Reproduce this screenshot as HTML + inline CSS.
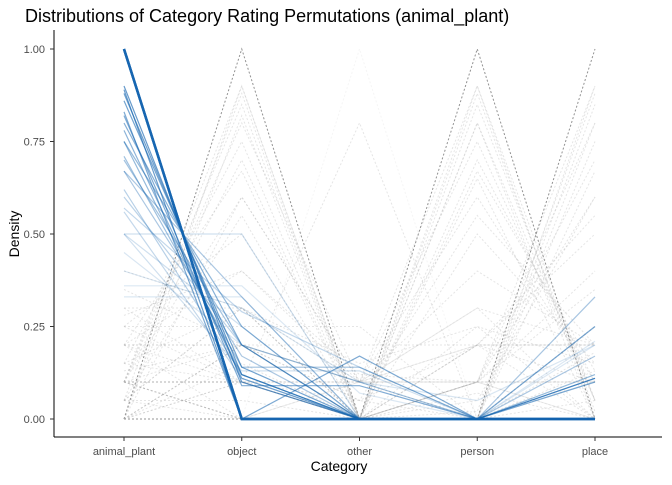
<!DOCTYPE html>
<html><head><meta charset="utf-8">
<style>
body{margin:0;background:#fff;font-family:"Liberation Sans",sans-serif}
svg text{font-family:"Liberation Sans",sans-serif}
</style></head>
<body>
<svg id="c" width="672" height="480">
<text x="25" y="22" font-size="18" fill="#000">Distributions of Category Rating Permutations (animal_plant)</text>
<g id="gray"></g>
<g id="blue"></g>
<line x1="54" y1="30" x2="54" y2="437" stroke="#000" stroke-width="1"/>
<line x1="54" y1="437" x2="662" y2="437" stroke="#000" stroke-width="1"/>
<g id="axes"></g>
<text x="339" y="471" font-size="14" text-anchor="middle">Category</text>
<text transform="translate(19,234) rotate(-90)" font-size="14" text-anchor="middle">Density</text>
</svg>
<script>
const categories=["animal_plant","object","other","person","place"];
const yTicks=[0,0.25,0.5,0.75,1];
const yTickLabels=["0.00","0.25","0.50","0.75","1.00"];
const blueProfiles=[
[1,0,0,0,0],[1,0,0,0,0],[1,0,0,0,0],
[0.9,0.1,0,0,0],[0.89,0,0,0,0.11],[0.88,0.12,0,0,0],[0.86,0.14,0,0,0],[0.83,0,0.17,0,0],
[0.8,0.2,0,0,0],[0.78,0.11,0,0,0.11],[0.75,0.25,0,0,0],[0.71,0.14,0.14,0,0],
[0.67,0.33,0,0,0],[0.67,0.17,0,0,0.17],[0.6,0.2,0.1,0,0.1],[0.57,0.29,0.14,0,0],
[0.56,0.11,0,0,0.33],[0.5,0.5,0,0,0],[0.5,0.25,0,0,0.25],[0.5,0.13,0.13,0,0.25],
[0.45,0.2,0.1,0.05,0.2],[0.4,0.3,0.1,0,0.2],[0.36,0.36,0.07,0,0.21],[0.33,0.33,0,0,0.33],
[0.7,0.2,0,0,0.1],[0.62,0.12,0,0,0.25],[0.82,0.09,0.09,0,0],[0.75,0.12,0,0,0.12]
];
const grayProfiles=[
[0,1,0,0,0],[0,0,0,1,0],[0,0,0,0,1],[0,0,1,0,0],
[0.1,0.9,0,0,0],[0.05,0.88,0,0.07,0],[0.1,0.85,0,0,0.05],[0.1,0.8,0.1,0,0],[0.15,0.75,0,0.1,0],
[0.1,0.7,0,0.1,0.1],[0.2,0.67,0,0,0.13],[0.1,0.6,0.1,0.1,0.1],[0.25,0.5,0,0.25,0],[0.2,0.4,0.1,0.2,0.1],
[0.05,0,0,0.9,0.05],[0.1,0,0,0.88,0.02],[0,0.1,0,0.85,0.05],[0.1,0.1,0,0.8,0],[0.1,0,0.1,0.75,0.05],
[0.1,0.1,0,0.7,0.1],[0.2,0,0,0.67,0.13],[0.1,0.1,0.1,0.6,0.1],[0.25,0.1,0,0.5,0.15],[0.1,0.2,0.1,0.4,0.2],
[0.05,0.05,0,0,0.9],[0.1,0,0,0.02,0.88],[0,0.1,0.05,0,0.85],[0.1,0,0,0.1,0.8],[0.15,0.1,0,0,0.75],
[0.1,0.1,0,0.1,0.7],[0.13,0.2,0,0,0.67],[0.1,0.1,0.1,0.1,0.6],[0.2,0.1,0,0.2,0.5],[0.2,0.2,0.1,0.1,0.4],
[0.1,0.1,0.8,0,0],[0.2,0.2,0.2,0.2,0.2],[0.3,0.3,0,0.2,0.2],[0.25,0.25,0.25,0,0.25],[0.15,0.3,0.15,0.25,0.15],
[0,0.9,0,0.1,0],[0,0.82,0,0,0.18],[0,0.6,0.1,0.3,0],[0.05,0.55,0,0.2,0.2],
[0,0,0.1,0.9,0],[0,0.15,0,0.8,0.05],[0.05,0.3,0,0.65,0],[0,0.2,0.05,0.55,0.2],
[0,0,0,0.1,0.9],[0,0.2,0,0,0.8],[0.05,0.3,0,0.05,0.6],[0,0.2,0.05,0.2,0.55],
[0.4,0.3,0.1,0.2,0],[0.3,0.1,0.1,0.3,0.2],[0.35,0.2,0,0.1,0.35],[0.28,0.4,0.12,0.1,0.1]
];
const xs=i=>124+i*117.75, ys=v=>419-v*370;
const NS="http://www.w3.org/2000/svg";
const ax=document.getElementById('axes');
yTicks.forEach((t,i)=>{
 const tx=document.createElementNS(NS,'text');
 
 
 tx.setAttribute('x',45);tx.setAttribute('y',ys(t)+4);tx.setAttribute('font-size','11');tx.setAttribute('fill','#4d4d4d');tx.setAttribute('text-anchor','end');
 tx.textContent=yTickLabels[i];ax.appendChild(tx);
 const l=document.createElementNS(NS,'line');
 
 
 l.setAttribute('x1',50);l.setAttribute('x2',54);l.setAttribute('y1',ys(t));l.setAttribute('y2',ys(t));l.setAttribute('stroke','#333');ax.appendChild(l);
});
categories.forEach((c,i)=>{
 const tx=document.createElementNS(NS,'text');
 
 
 tx.setAttribute('x',xs(i));tx.setAttribute('y',455);tx.setAttribute('font-size','11');tx.setAttribute('fill','#4d4d4d');tx.setAttribute('text-anchor','middle');
 tx.textContent=c;ax.appendChild(tx);
 const l=document.createElementNS(NS,'line');
 
 
 l.setAttribute('x1',xs(i));l.setAttribute('x2',xs(i));l.setAttribute('y1',437);l.setAttribute('y2',441);l.setAttribute('stroke','#333');ax.appendChild(l);
});
function pts(p){return p.map((v,i)=>xs(i)+','+ys(v)).join(' ');}
const g=document.getElementById('gray');
grayProfiles.forEach(p=>{
 const pl=document.createElementNS(NS,'polyline');
 
 
 const mx=Math.max(...p);
 pl.setAttribute('points',pts(p));pl.setAttribute('fill','none');
 pl.setAttribute('stroke',mx===1&&p[2]!==1?'#777':'#aaa');
 pl.setAttribute('stroke-opacity',mx===1?(p[2]===1?0.12:0.8):0.3);
 pl.setAttribute('stroke-dasharray','2,2');
 pl.setAttribute('stroke-width',1);g.appendChild(pl);
});
const b=document.getElementById('blue');
blueProfiles.forEach(p=>{
 const pl=document.createElementNS(NS,'polyline');
 
 
 pl.setAttribute('points',pts(p));pl.setAttribute('fill','none');
 pl.setAttribute('stroke','#1565b0');
 pl.setAttribute('stroke-opacity',Math.max(0.15,p[0]*p[0]*0.8));
 pl.setAttribute('stroke-width',p[0]===1?2.5:1.2);b.appendChild(pl);
});
</script>
</body></html>
